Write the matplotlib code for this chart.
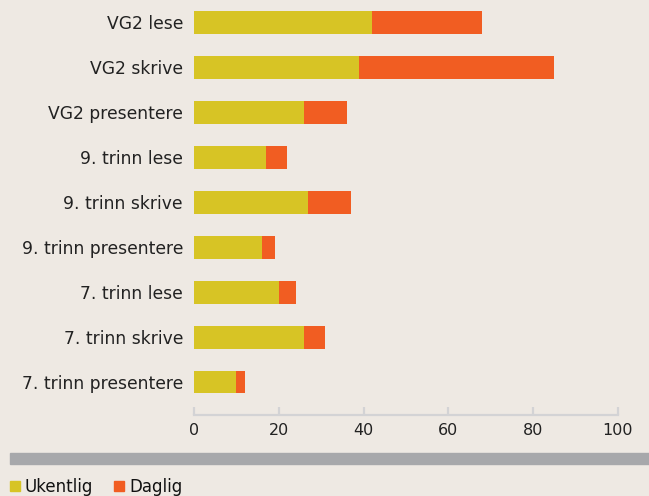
import matplotlib
matplotlib.use("Agg")
import matplotlib.pyplot as plt
from matplotlib.patches import Patch, Rectangle

categories = ["VG2 lese", "VG2 skrive", "VG2 presentere",
              "9. trinn lese", "9. trinn skrive", "9. trinn presentere",
              "7. trinn lese", "7. trinn skrive", "7. trinn presentere"]
ukentlig = [42, 39, 26, 17, 27, 16, 20, 26, 10]
daglig = [26, 46, 10, 5, 10, 3, 4, 5, 2]
series_names = ["Ukentlig", "Daglig"]
xticks = [0, 20, 40, 60, 80, 100]

BG = "#EEE9E3"
YEL = "#D7C425"
ORA = "#F15D22"
TXT = "#222222"
plt.rcParams['font.family'] = ['DejaVu Sans']

fig = plt.figure(figsize=(6.49, 4.96), dpi=100, facecolor=BG)
W, H = 649, 496
ax = fig.add_axes([194 / W, 1 - 415 / H, (618 - 194) / W, 415 / H])
ax.set_facecolor(BG)

y = list(range(len(categories)))
ax.barh(y, ukentlig, height=0.51, color=YEL, label=series_names[0])
ax.barh(y, daglig, left=ukentlig, height=0.51, color=ORA, label=series_names[1])

ax.set_xlim(0, 100)
ax.set_ylim(8.734, -0.5)
ax.set_yticks(y)
ax.set_yticklabels(categories, fontsize=12.3, color=TXT)
ax.set_xticks(xticks)
ax.set_xticklabels([str(v) for v in xticks], fontsize=11.5, color=TXT)
for s in ["top", "right", "left"]:
    ax.spines[s].set_visible(False)
ax.spines["bottom"].set_color("#D3D3D5")
ax.spines["bottom"].set_linewidth(1.6)
ax.tick_params(axis="y", length=0, pad=8)
ax.tick_params(axis="x", direction="in", length=6, width=1.6, color="#D3D3D5", pad=6)

# grey separator band
fig.patches.append(Rectangle((10 / W, 1 - 464 / H), (W - 10) / W, 11 / H,
                             transform=fig.transFigure, color="#A7A8AB", zorder=0))

handles = [Patch(color=YEL), Patch(color=ORA)]
fig.legend(handles, series_names, loc="lower left", bbox_to_anchor=(0 / W, -10 / H),
           ncol=2, frameon=False, fontsize=12, handlelength=0.6, handleheight=0.6,
           handletextpad=0.3, columnspacing=1.25, borderaxespad=0.2,
           labelcolor="#111111")

fig.savefig("out.png", dpi=100, facecolor=BG)
